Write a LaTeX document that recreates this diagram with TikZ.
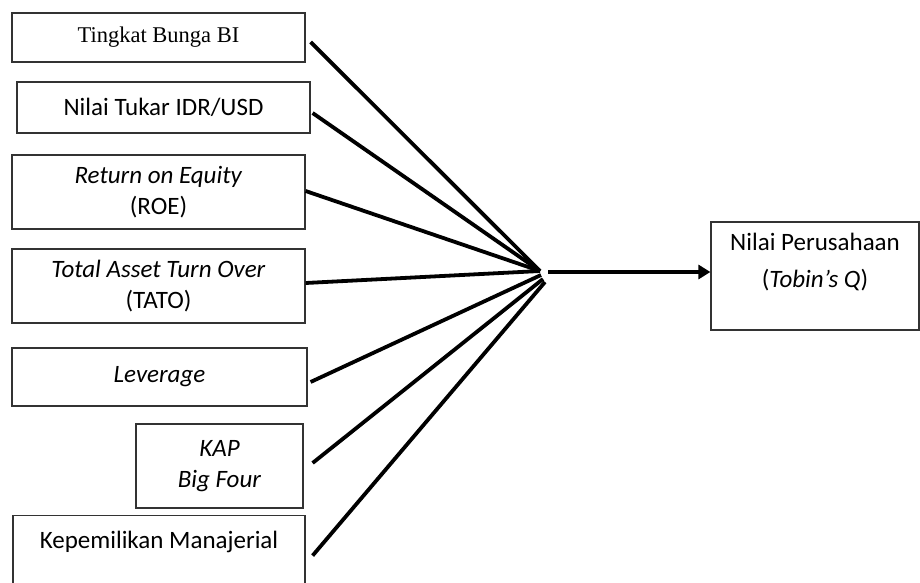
\documentclass[tikz,border=0pt]{standalone}
\usepackage{fontspec}
\setmainfont{Carlito}
\newfontfamily\timesfont{Liberation Serif}
\usetikzlibrary{arrows.meta}
\tikzset{
  kotak/.style={draw=black!80, line width=1.2pt, inner sep=0pt, align=center,
    font=\fontsize{25}{31}\selectfont},
  isi/.style={inner sep=0pt, align=center, font=\fontsize{25}{37}\selectfont},
  garis/.style={line width=3.8pt},
}
\begin{document}
\begin{tikzpicture}[x=1pt,y=-1pt]
		\useasboundingbox (0,0) rectangle (920,583);
		\clip (0,0) rectangle (920,583);
		% variabel independen
		\node[kotak, minimum width=293pt, minimum height=49pt, font=\timesfont\fontsize{22.5}{26}\selectfont] (bunga) at (158.5,37.5) {Tingkat Bunga BI};
		\node[kotak, minimum width=293pt, minimum height=51pt] (kurs) at (163.5,107.5) {Nilai Tukar IDR/USD};
		\node[kotak, minimum width=293pt, minimum height=74pt] (roe) at (158.5,192) {\textit{Return on Equity}\\(ROE)};
		\node[kotak, minimum width=293pt, minimum height=74pt] (tato) at (158.5,286) {\textit{Total Asset Turn Over}\\(TATO)};
		\node[kotak, minimum width=295pt, minimum height=58pt] (lev) at (159.5,377) {\textit{Leverage}};
		\node[kotak, minimum width=167pt, minimum height=84pt] (kap) at (219.5,466) {\textit{KAP}\\\textit{Big Four}};
		\node[kotak, anchor=north, minimum width=292pt, minimum height=90pt,
			label={[isi, anchor=north, yshift=-16pt]north:Kepemilikan Manajerial}] (milik) at (159,515) {};
		% variabel dependen
		\node[kotak, minimum width=208pt, minimum height=108pt,
			label={[isi, anchor=north, yshift=-12pt]north:Nilai Perusahaan\\(\textit{Tobin’s Q})}] (nilai) at (815,276) {};
		\coordinate (hub) at (540,271);
		\coordinate (pangkal) at (548,272);
		\draw[garis] ([shift={(5,4.5)}]bunga.east) -- (hub);
		\draw[garis] ([shift={(2,5.5)}]kurs.east) -- (hub);
		\draw[garis] ([shift={(0,-1)}]roe.east) -- (hub);
		\draw[garis] ([shift={(0,-3)}]tato.east) -- (hub);
		\draw[garis] ([shift={(3,5)}]lev.east) -- ([shift={(1,4)}]hub);
		\draw[garis] ([shift={(9,-3)}]kap.east) -- ([shift={(3,8)}]hub);
		\draw[garis] ([shift={(7,-5)}]milik.east) -- ([shift={(5,11)}]hub);
		\draw[garis,-{Triangle[length=12pt,width=14pt]}] (pangkal) -- (pangkal -| nilai.west);
\end{tikzpicture}
\end{document}
